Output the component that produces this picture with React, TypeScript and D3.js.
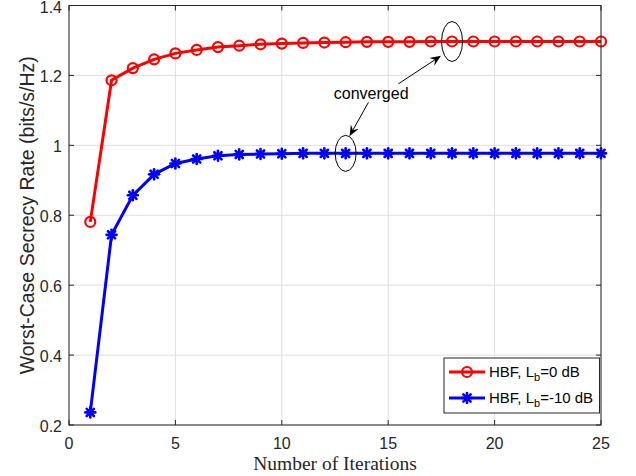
import React from 'react';
import * as d3 from 'd3';

// Iteration index (shared by both curves)
const iterations = d3.range(1, 26);

// HBF, Lb = 0 dB
const rateLb0 = [
  0.781, 1.186, 1.221, 1.246, 1.263, 1.273, 1.281, 1.285, 1.289, 1.291,
  1.293, 1.294, 1.295, 1.296, 1.296, 1.296, 1.297, 1.297, 1.297, 1.297,
  1.297, 1.297, 1.297, 1.297, 1.297,
];

// HBF, Lb = -10 dB
const rateLbm10 = [
  0.236, 0.744, 0.857, 0.917, 0.948, 0.961, 0.970, 0.974, 0.975, 0.976,
  0.977, 0.977, 0.977, 0.977, 0.977, 0.977, 0.977, 0.977, 0.977, 0.977,
  0.977, 0.977, 0.977, 0.977, 0.977,
];

const xTicks = [0, 5, 10, 15, 20, 25];
const yTicks = [0.2, 0.4, 0.6, 0.8, 1, 1.2, 1.4];

const W = 636;
const H = 476;
const M = { left: 69, right: 35, top: 5.5, bottom: 51 };

const AXIS_COLOR = '#262626';
const GRID_COLOR = '#dfdfdf';
const SANS = 'Liberation Sans, Arial, Helvetica, sans-serif';
const SERIF = 'Liberation Serif, Times New Roman, serif';

const xScale = d3.scaleLinear().domain([0, 25]).range([M.left, W - M.right]);
const yScale = d3.scaleLinear().domain([0.2, 1.4]).range([H - M.bottom, M.top]);

const line = d3.line<number>()
  .x((_, i) => xScale(iterations[i]))
  .y((d) => yScale(d));

// asterisk marker ('*' = plus + cross)
function Star({ cx, cy, r, color }: { cx: number; cy: number; r: number; color: string }) {
  const d = r * 0.72;
  return (
    <g stroke={color} strokeWidth={2.6} strokeLinecap="round">
      <line x1={cx - r} y1={cy} x2={cx + r} y2={cy} />
      <line x1={cx} y1={cy - r} x2={cx} y2={cy + r} />
      <line x1={cx - d} y1={cy - d} x2={cx + d} y2={cy + d} />
      <line x1={cx - d} y1={cy + d} x2={cx + d} y2={cy - d} />
    </g>
  );
}

function Arrow({ from, to }: { from: [number, number]; to: [number, number] }) {
  const x1 = xScale(from[0]), y1 = yScale(from[1]);
  const x2 = xScale(to[0]), y2 = yScale(to[1]);
  const ang = Math.atan2(y2 - y1, x2 - x1);
  const L = 11, Wd = 4.5, back = 7;
  const bx = x2 - L * Math.cos(ang), by = y2 - L * Math.sin(ang);
  const ix = x2 - back * Math.cos(ang), iy = y2 - back * Math.sin(ang);
  const px = -Math.sin(ang) * Wd, py = Math.cos(ang) * Wd;
  const head = `M${x2},${y2}L${bx + px},${by + py}L${ix},${iy}L${bx - px},${by - py}Z`;
  return (
    <g>
      <line x1={x1} y1={y1} x2={ix} y2={iy} stroke="#000" strokeWidth={1} />
      <path d={head} fill="#000" />
    </g>
  );
}

export default function App() {
  const plotW = W - M.left - M.right;
  const plotH = H - M.top - M.bottom;
  const tickLen = 5;

  return (
    <svg width={W} height={H} style={{ position: 'absolute', left: 0, top: 0, background: '#fff' }}>
      <rect x={0} y={0} width={W} height={H} fill="#fff" />
      {/* grid */}
      {xTicks.map((t) => (
        <line key={'gx' + t} x1={xScale(t)} x2={xScale(t)} y1={M.top} y2={H - M.bottom} stroke={GRID_COLOR} />
      ))}
      {yTicks.map((t) => (
        <line key={'gy' + t} x1={M.left} x2={W - M.right} y1={yScale(t)} y2={yScale(t)} stroke={GRID_COLOR} />
      ))}

      {/* curves */}
      <path d={line(rateLb0) || ''} fill="none" stroke="#ff0000" strokeWidth={3} />
      <path d={line(rateLbm10) || ''} fill="none" stroke="#0000ff" strokeWidth={3} />
      {rateLb0.map((v, i) => (
        <circle key={'r' + i} cx={xScale(iterations[i])} cy={yScale(v)} r={5} fill="none" stroke="#ff0000" strokeWidth={2.2} />
      ))}
      {rateLbm10.map((v, i) => (
        <Star key={'b' + i} cx={xScale(iterations[i])} cy={yScale(v)} r={5} color="#0000ff" />
      ))}

      {/* axes box */}
      <rect x={M.left} y={M.top} width={plotW} height={plotH} fill="none" stroke={AXIS_COLOR} strokeWidth={1} />
      {xTicks.map((t) => (
        <g key={'tx' + t}>
          <line x1={xScale(t)} x2={xScale(t)} y1={H - M.bottom} y2={H - M.bottom - tickLen} stroke={AXIS_COLOR} />
          <line x1={xScale(t)} x2={xScale(t)} y1={M.top} y2={M.top + tickLen} stroke={AXIS_COLOR} />
          <text x={xScale(t)} y={H - M.bottom + 24} textAnchor="middle" fontFamily={SANS} fontSize={16} fill={AXIS_COLOR}>
            {t}
          </text>
        </g>
      ))}
      {yTicks.map((t) => (
        <g key={'ty' + t}>
          <line x1={M.left} x2={M.left + tickLen} y1={yScale(t)} y2={yScale(t)} stroke={AXIS_COLOR} />
          <line x1={W - M.right} x2={W - M.right - tickLen} y1={yScale(t)} y2={yScale(t)} stroke={AXIS_COLOR} />
          <text x={M.left - 7} y={yScale(t) + 7} textAnchor="end" fontFamily={SANS} fontSize={16} fill={AXIS_COLOR}>
            {t}
          </text>
        </g>
      ))}

      {/* axis labels */}
      <text x={M.left + plotW / 2} y={470} textAnchor="middle" fontFamily={SERIF} fontSize={19.5} fill={AXIS_COLOR}>
        Number of Iterations
      </text>
      <text
        transform={`translate(${34},${M.top + plotH / 2}) rotate(-90)`}
        textAnchor="middle"
        fontFamily={SANS}
        fontSize={19.5}
        fill={AXIS_COLOR}
      >
        Worst-Case Secrecy Rate (bits/s/Hz)
      </text>

      {/* annotation */}
      <ellipse cx={xScale(18)} cy={yScale(1.297)} rx={10.5} ry={20} fill="none" stroke="#000" strokeWidth={1} />
      <ellipse cx={xScale(13)} cy={yScale(0.977)} rx={10.5} ry={18} fill="none" stroke="#000" strokeWidth={1} />
      <text x={xScale(14.2)} y={yScale(1.149) + 6} textAnchor="middle" fontFamily={SANS} fontSize={16} fill="#000">
        converged
      </text>
      <Arrow from={[15.48, 1.176]} to={[17.48, 1.256]} />
      <Arrow from={[14.07, 1.123]} to={[13.18, 1.026]} />

      {/* legend */}
      <g>
        <rect x={444} y={358} width={155.5} height={55} fill="#fff" stroke={AXIS_COLOR} strokeWidth={1} />
        <line x1={449} x2={485} y1={372} y2={372} stroke="#ff0000" strokeWidth={3} />
        <circle cx={467} cy={372} r={5} fill="none" stroke="#ff0000" strokeWidth={2.2} />
        <text x={489} y={377} fontFamily={SANS} fontSize={15} fill="#000">
          HBF, L<tspan dy={4} fontSize={11}>b</tspan><tspan dy={-4}>=0 dB</tspan>
        </text>
        <line x1={449} x2={485} y1={398} y2={398} stroke="#0000ff" strokeWidth={3} />
        <Star cx={467} cy={398} r={5} color="#0000ff" />
        <text x={489} y={403} fontFamily={SANS} fontSize={15} fill="#000">
          HBF, L<tspan dy={4} fontSize={11}>b</tspan><tspan dy={-4}>=-10 dB</tspan>
        </text>
      </g>
    </svg>
  );
}
